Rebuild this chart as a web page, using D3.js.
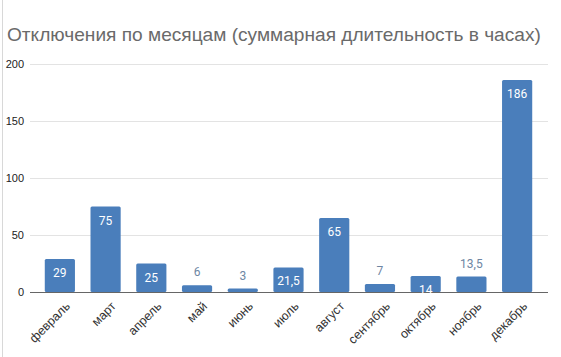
<!DOCTYPE html>
<html><head><meta charset="utf-8">
<script src="https://cdn.jsdelivr.net/npm/d3@7"></script>
<style>html,body{margin:0;padding:0;background:#fff;}svg{display:block;}</style>
</head><body>
<script>
const categories = ["февраль","март","апрель","май","июнь","июль","август","сентябрь","октябрь","ноябрь","декабрь"];
const values = [29, 75, 25, 6, 3, 21.5, 65, 7, 14, 13.5, 186];
const labels = ["29","75","25","6","3","21,5","65","7","14","13,5","186"];
const yTicks = [0, 50, 100, 150, 200];
const title = "Отключения по месяцам (суммарная длительность в часах)";

const W = 561, H = 357;
const svg = d3.select("body").append("svg").attr("width", W).attr("height", H);

svg.append("line").attr("x1",2.5).attr("x2",2.5).attr("y1",0).attr("y2",H).attr("stroke","#d8d8d8");

const x = d3.scaleBand().domain(categories).range([37, 540]).paddingInner(0.34).paddingOuter(0.17);
const y = d3.scaleLinear().domain([0, 200]).range([292, 64]);

const t = svg.append("text").attr("x", 7).attr("y", 41).attr("font-family","Liberation Sans, Arial, sans-serif")
  .attr("font-size", 20).attr("fill", "#6a6a6a").text(title);
const tw = t.node().getComputedTextLength();
t.attr("font-size", 20 * 534 / tw);

const grid = svg.append("g");
grid.selectAll("line").data(yTicks.filter(d=>d>0)).join("line")
  .attr("x1", 30).attr("x2", 548).attr("y1", d=>Math.round(y(d))+0.5).attr("y2", d=>Math.round(y(d))+0.5)
  .attr("stroke","#e3e3e3").attr("stroke-width",1);

const yAxis = d3.axisLeft(y).tickValues(yTicks).tickSize(0).tickPadding(0);
const ya = svg.append("g").attr("transform","translate(24,0)").call(yAxis);
ya.select(".domain").remove();
ya.selectAll("text").attr("font-family","Liberation Sans, Arial, sans-serif").attr("font-size",11).attr("fill","#222");

svg.append("g").selectAll("rect").data(values).join("rect")
  .attr("x", (d,i)=>x(categories[i])).attr("width", x.bandwidth())
  .attr("y", d=>y(d)).attr("height", d=>y(0)-y(d))
  .attr("rx",1.5).attr("fill","#4a7ebb");

svg.append("line").attr("x1",30).attr("x2",548).attr("y1",292.5).attr("y2",292.5).attr("stroke","#666").attr("stroke-width",1);

svg.append("g").selectAll("text").data(values).join("text")
  .attr("x",(d,i)=>x(categories[i])+x.bandwidth()/2)
  .attr("y", d=> d>=14 ? y(d)+18 : y(d)-9)
  .attr("text-anchor","middle").attr("font-family","Roboto, Arial, sans-serif").attr("font-size",12)
  .attr("fill", d=> d>=14 ? "#fff" : "#6e86a3")
  .text((d,i)=>labels[i]);

const xa = svg.append("g").attr("transform","translate(0,292)").call(d3.axisBottom(x).tickSize(0).tickPadding(0));
xa.select(".domain").remove();
xa.selectAll("text").attr("font-family","Liberation Sans, Arial, sans-serif").attr("font-size",12.5).attr("fill","#333")
  .attr("text-anchor","end").attr("dy",0).attr("transform","translate(11,15) rotate(-45)");
</script>
</body></html>
